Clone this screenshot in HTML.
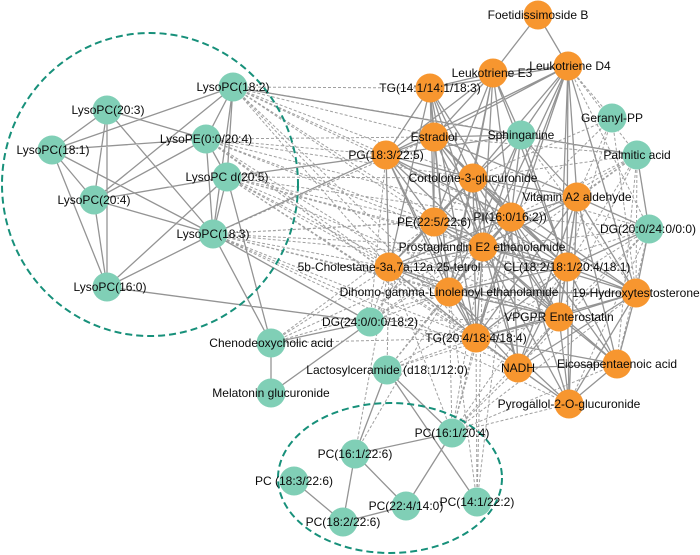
<!DOCTYPE html>
<html><head><meta charset="utf-8"><style>
html,body{margin:0;padding:0;background:#fff;}
svg{display:block;}
text{font-family:"Liberation Sans",Arial,sans-serif;font-size:12px;fill:#0a0a0a;text-anchor:middle;}
</style></head><body>
<svg width="700" height="555" viewBox="0 0 700 555" xmlns="http://www.w3.org/2000/svg">
<rect width="700" height="555" fill="#fff"/>
<!-- dashed edges -->
<path fill="none" stroke="#a0a0a0" stroke-width="1" stroke-dasharray="3,2" d="
M233 87L430 88M233 87L434 137M233 87L386 155M233 87L473 178M233 87L434 222M233 87L389 267M233 87L449 292M233 87L521 135M233 87L476 338M233 87L483 247M233 87L511 217
M206 139L386 155M206 139L434 222M206 139L483 247M206 139L389 267M206 139L449 292M206 139L476 338M206 139L511 217M206 139L473 178M206 139L434 137M206 139L518 368
M227 177L434 222M227 177L389 267M227 177L449 292M227 177L476 338M227 177L483 247M227 177L511 217M227 177L559 317M227 177L473 178M227 177L518 368M227 177L567 267
M213 234L434 222M213 234L389 267M213 234L449 292M213 234L476 338M213 234L483 247M213 234L518 368M213 234L559 317M213 234L567 267M213 234L511 217M213 234L434 137M213 234L569 404
M271 343L389 267M271 343L449 292M271 343L476 338M271 343L434 222M271 343L483 247
M370 322L389 267M370 322L449 292M370 322L483 247M370 322L434 222M370 322L511 217M370 322L476 338M370 322L473 178M370 322L386 155M370 322L559 317
M387 370L449 292M387 370L476 338M387 370L483 247M387 370L511 217M387 370L559 317M387 370L389 267M387 370L567 267
M452 433L389 267M452 433L449 292M452 433L476 338M452 433L518 368M452 433L569 404M452 433L559 317M452 433L617 364M452 433L483 247M452 433L511 217M452 433L567 267M452 433L636 293
M477 502L476 338M477 502L449 292M477 502L511 217M477 502L483 247
M355 454L389 267M355 454L449 292
M637 155L473 178M637 155L511 217M637 155L483 247M637 155L567 267M637 155L636 293M637 155L559 317M637 155L577 197M637 155L449 292M637 155L617 364M637 155L568 66M637 155L434 137
M649 229L511 217M649 229L483 247M649 229L449 292M649 229L559 317M649 229L476 338M649 229L518 368M649 229L617 364M649 229L569 404M649 229L473 178
M612 118L568 66M612 118L577 197M612 118L567 267M612 118L636 293M612 118L511 217M612 118L473 178
M568 66L649 229M521 135L636 293
"/>
<!-- solid edges -->
<path fill="none" stroke="#949494" stroke-width="1.3" d="
M233 87L206 139M233 87L227 177M233 87L213 234M233 87L52 150M233 87L94 200M233 87L637 155
M107 110L52 150M107 110L94 200M107 110L107 287M107 110L213 234M107 110L206 139
M206 139L52 150M206 139L227 177M206 139L94 200M206 139L213 234
M52 150L94 200M52 150L107 287M52 150L213 234
M227 177L94 200M227 177L213 234M227 177L107 287M227 177L271 343M227 177L386 155
M94 200L213 234M94 200L107 287
M213 234L107 287M213 234L271 343M213 234L386 155M213 234L370 322
M107 287L370 322
M271 343L271 393M271 343L370 322M271 393L370 322
M387 370L355 454M387 370L452 433M387 370L477 502
M452 433L355 454M452 433L406 506M355 454L406 506M355 454L343 522M294 481L343 522M343 522L406 506
M637 155L649 229
M538 15L493 73M538 15L568 66M493 73L568 66M430 88L568 66M493 73L430 88
M493 73L434 137M493 73L386 155M493 73L473 178M493 73L511 217M493 73L434 222M493 73L483 247M493 73L567 267M493 73L449 292M493 73L521 135
M568 66L473 178M568 66L577 197M568 66L511 217M568 66L483 247M568 66L567 267M568 66L559 317M568 66L636 293M568 66L521 135M568 66L386 155M568 66L476 338M568 66L434 137
M430 88L434 137M430 88L386 155M430 88L473 178M430 88L434 222M430 88L483 247M430 88L389 267M430 88L449 292M430 88L511 217M430 88L476 338
M434 137L386 155M434 137L473 178M434 137L511 217M434 137L434 222M434 137L483 247M434 137L567 267M434 137L449 292M434 137L559 317M434 137L577 197
M386 155L473 178M386 155L434 222M386 155L483 247M386 155L389 267M386 155L449 292M386 155L476 338M386 155L511 217M386 155L567 267
M473 178L577 197M473 178L511 217M473 178L434 222M473 178L483 247M473 178L389 267M473 178L567 267M473 178L449 292M473 178L559 317M473 178L476 338M473 178L518 368M473 178L636 293
M577 197L511 217M577 197L483 247M577 197L567 267M577 197L636 293M577 197L559 317M577 197L476 338M577 197L518 368M577 197L617 364M577 197L569 404M577 197L521 135M577 197L649 229
M511 217L434 222M511 217L483 247M511 217L389 267M511 217L567 267M511 217L449 292M511 217L636 293M511 217L559 317M511 217L476 338M511 217L518 368M511 217L617 364M511 217L569 404
M434 222L483 247M434 222L389 267M434 222L449 292M434 222L559 317M434 222L476 338M434 222L567 267
M483 247L389 267M483 247L567 267M483 247L449 292M483 247L636 293M483 247L559 317M483 247L476 338M483 247L518 368M483 247L617 364M483 247L569 404
M389 267L449 292M389 267L559 317M389 267L476 338M389 267L567 267
M567 267L449 292M567 267L636 293M567 267L559 317M567 267L476 338M567 267L518 368M567 267L617 364M567 267L569 404M567 267L649 229
M449 292L559 317M449 292L476 338M449 292L518 368M449 292L636 293M449 292L569 404
M636 293L559 317M636 293L476 338M636 293L518 368M636 293L617 364M636 293L569 404M636 293L649 229
M559 317L476 338M559 317L518 368M559 317L617 364M559 317L569 404
M476 338L518 368M476 338L569 404M476 338L617 364
M518 368L617 364M518 368L569 404M617 364L569 404
M521 135L434 137M521 135L473 178M521 135L386 155M521 135L511 217M521 135L483 247M521 135L567 267M521 135L449 292
"/>
<!-- group ellipses -->
<ellipse cx="150" cy="184.5" rx="148" ry="151.5" fill="none" stroke="#17907a" stroke-width="2" stroke-dasharray="7,4"/>
<ellipse cx="390" cy="478" rx="112" ry="75" fill="none" stroke="#17907a" stroke-width="2" stroke-dasharray="7,4"/>
<!-- teal nodes -->
<g fill="#80cfb6">
<circle cx="233" cy="87" r="14.5"/><circle cx="107" cy="110" r="14.5"/><circle cx="206" cy="139" r="14.5"/><circle cx="52" cy="150" r="14.5"/>
<circle cx="227" cy="177" r="14.5"/><circle cx="94" cy="200" r="14.5"/><circle cx="213" cy="234" r="14.5"/><circle cx="107" cy="287" r="14.5"/>
<circle cx="612" cy="118" r="14.5"/><circle cx="521" cy="135" r="14.5"/><circle cx="637" cy="155" r="14.5"/><circle cx="649" cy="229" r="14.5"/>
<circle cx="370" cy="322" r="14.5"/><circle cx="271" cy="343" r="14.5"/><circle cx="387" cy="370" r="14.5"/><circle cx="271" cy="393" r="14.5"/>
<circle cx="452" cy="433" r="14.5"/><circle cx="355" cy="454" r="14.5"/><circle cx="294" cy="481" r="14.5"/><circle cx="406" cy="506" r="14.5"/>
<circle cx="477" cy="502" r="14.5"/><circle cx="343" cy="522" r="14.5"/>
</g>
<!-- orange nodes -->
<g fill="#f7962f">
<circle cx="538" cy="15" r="14.5"/><circle cx="493" cy="73" r="14.5"/><circle cx="568" cy="66" r="14.5"/><circle cx="430" cy="88" r="14.5"/>
<circle cx="434" cy="137" r="14.5"/><circle cx="386" cy="155" r="14.5"/><circle cx="473" cy="178" r="14.5"/><circle cx="577" cy="197" r="14.5"/>
<circle cx="511" cy="217" r="14.5"/><circle cx="434" cy="222" r="14.5"/><circle cx="483" cy="247" r="14.5"/><circle cx="389" cy="267" r="14.5"/>
<circle cx="567" cy="267" r="14.5"/><circle cx="449" cy="292" r="14.5"/><circle cx="636" cy="293" r="14.5"/><circle cx="559" cy="317" r="14.5"/>
<circle cx="476" cy="338" r="14.5"/><circle cx="518" cy="368" r="14.5"/><circle cx="617" cy="364" r="14.5"/><circle cx="569" cy="404" r="14.5"/>
</g>
<!-- labels -->
<g>
<text x="233" y="91">LysoPC(18:2)</text>
<text x="108" y="114">LysoPC(20:3)</text>
<text x="206" y="143">LysoPE(0:0/20:4)</text>
<text x="53" y="154">LysoPC(18:1)</text>
<text x="227" y="181">LysoPC d(20:5)</text>
<text x="94" y="204">LysoPC(20:4)</text>
<text x="213" y="238">LysoPC(18:3)</text>
<text x="110" y="291">LysoPC(16:0)</text>
<text x="612" y="122">Geranyl-PP</text>
<text x="521" y="139">Sphinganine</text>
<text x="637" y="159">Palmitic acid</text>
<text x="648" y="233">DG(20:0/24:0/0:0)</text>
<text x="370" y="326">DG(24:0/0:0/18:2)</text>
<text x="271" y="347">Chenodeoxycholic acid</text>
<text x="387" y="374">Lactosylceramide (d18:1/12:0)</text>
<text x="271" y="397">Melatonin glucuronide</text>
<text x="452" y="437">PC(16:1/20:4)</text>
<text x="355" y="458">PC(16:1/22:6)</text>
<text x="294" y="485">PC (18:3/22:6)</text>
<text x="406" y="510">PC(22:4/14:0)</text>
<text x="477" y="506">PC(14:1/22:2)</text>
<text x="343" y="526">PC(18:2/22:6)</text>
<text x="538" y="19">Foetidissimoside B</text>
<text x="492" y="77">Leukotriene E3</text>
<text x="570" y="70">Leukotriene D4</text>
<text x="430" y="92">TG(14:1/14:1/18:3)</text>
<text x="434" y="141">Estradiol</text>
<text x="386" y="159">PG(18:3/22:5)</text>
<text x="473" y="182">Cortolone-3-glucuronide</text>
<text x="577" y="201">Vitamin A2 aldehyde</text>
<text x="510" y="221">PI(16:0/16:2))</text>
<text x="434" y="226">PE(22:5/22:6)</text>
<text x="482" y="251">Prostaglandin E2 ethanolamide</text>
<text x="389" y="271">5b-Cholestane-3a,7a,12a,25-tetrol</text>
<text x="567" y="271">CL(18:2/18:1/20:4/18:1)</text>
<text x="449" y="296">Dihomo-gamma-Linolenoyl ethanolamide</text>
<text x="636" y="297">19-Hydroxytestosterone</text>
<text x="559" y="321">VPGPR Enterostatin</text>
<text x="476" y="342">TG(20:4/18:4/18:4)</text>
<text x="518" y="372">NADH</text>
<text x="617" y="368">Eicosapentaenoic acid</text>
<text x="569" y="408">Pyrogallol-2-O-glucuronide</text>
</g>
</svg>
</body></html>
